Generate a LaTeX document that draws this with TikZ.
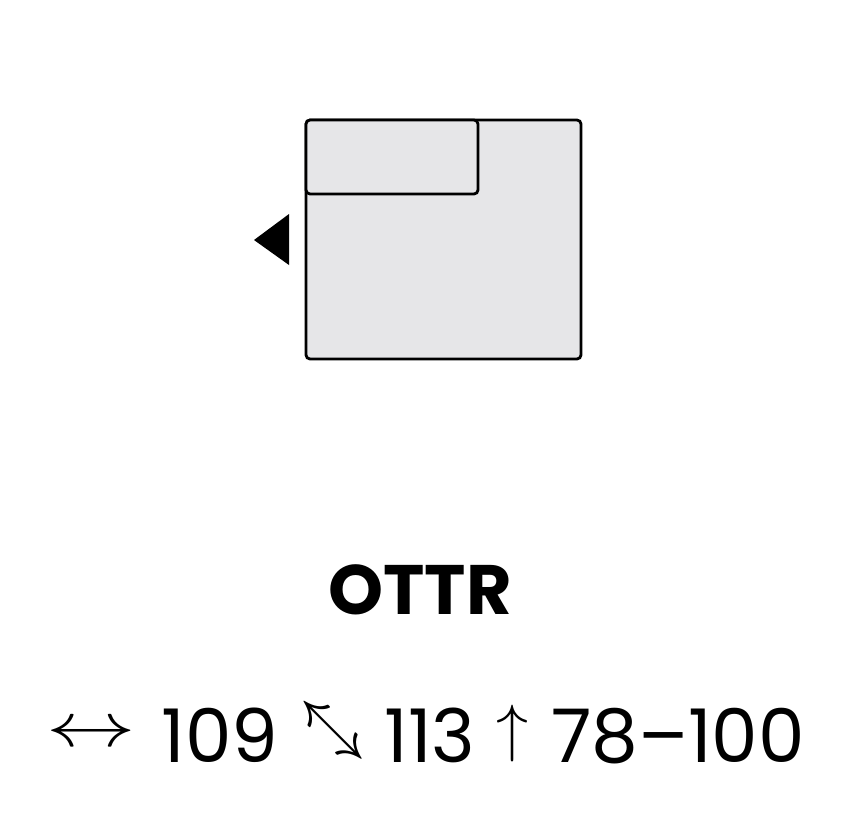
\documentclass[tikz,border=0pt]{standalone}
\usepackage{fix-cm}
\usepackage{fontspec}
\setmainfont{Poppins}
\usepackage{graphicx}
\definecolor{sofagray}{RGB}{230,230,232}
\tikzset{seat/.style={draw=black,fill=sofagray,line width=2.8pt,rounded corners=4pt}}
\newcommand{\dimfont}{\fontsize{74}{74}\selectfont}
\begin{document}
\begin{tikzpicture}[x=1pt,y=-1pt,every node/.style={inner sep=0pt}]
  \useasboundingbox (0,0) rectangle (866,814);
  % sofa seen from above
  \draw[seat] (306,120) rectangle (581,359);
  \draw[seat] (306,120) rectangle (478,194);
  \fill (254,240) -- (289,214) -- (289,265) -- cycle;
  % name and sizes
  \node[anchor=base] (name) at (420,614) {\fontsize{70}{70}\selectfont\bfseries OTTR};
  \path (91,735) node (lenarrow) {\fontsize{63}{63}\selectfont\scalebox{1.42}[1]{$\leftrightarrow$}}
  (220,762) node[anchor=base] (len) {\dimfont 109}
  (330,733) node (diagarrow) {\fontsize{56}{56}\selectfont\rotatebox{-45}{\scalebox{1.65}[1]{$\leftrightarrow$}}}
  (430,762) node[anchor=base] (diag) {\dimfont 113}
  (512,733) node (htarrow) {\fontsize{64}{64}\selectfont$\uparrow$}
  (678,762) node[anchor=base] (ht) {\dimfont 78–100};
\end{tikzpicture}
\end{document}
